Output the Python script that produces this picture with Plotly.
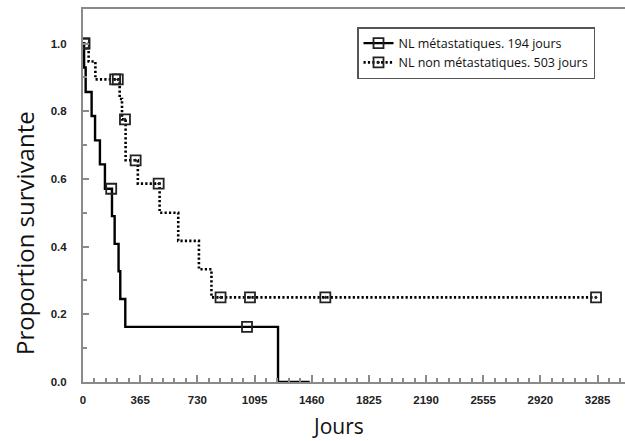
import plotly.graph_objects as go

# --- Data ---
met_times = [0, 7, 17, 55, 77, 108, 140, 185, 202, 227, 238, 270, 1245, 1447]
met_surv = [1.0, 0.929, 0.857, 0.786, 0.714, 0.643, 0.571, 0.490, 0.408, 0.327, 0.245, 0.163, 0.0, 0.0]
met_cens_t = [6, 180, 1047]
met_cens_s = [1.0, 0.571, 0.163]

nonmet_times = [0, 36, 79, 234, 249, 272, 350, 489, 608, 740, 820, 3275]
nonmet_surv = [1.0, 0.947, 0.894, 0.836, 0.776, 0.655, 0.586, 0.500, 0.417, 0.333, 0.250, 0.250]
nonmet_cens_t = [10, 205, 222, 268, 336, 483, 878, 1066, 1547, 3275]
nonmet_cens_s = [1.0, 0.894, 0.894, 0.776, 0.655, 0.586, 0.25, 0.25, 0.25, 0.25]

label_met = "NL métastatiques. 194 jours"
label_nonmet = "NL non métastatiques. 503 jours"
x_ticks = [0, 365, 730, 1095, 1460, 1825, 2190, 2555, 2920, 3285]
y_ticks = [0.0, 0.2, 0.4, 0.6, 0.8, 1.0]

DOT = "2.2px,2.2px"
fig = go.Figure()

# step lines
fig.add_trace(go.Scatter(x=met_times, y=met_surv, mode="lines", line_shape="hv",
                         line=dict(color="black", width=2.4), showlegend=False, hoverinfo="skip"))
fig.add_trace(go.Scatter(x=nonmet_times, y=nonmet_surv, mode="lines", line_shape="hv",
                         line=dict(color="black", width=2.6, dash=DOT), showlegend=False, hoverinfo="skip"))
# censor markers
fig.add_trace(go.Scatter(x=met_cens_t, y=met_cens_s, mode="markers",
                         marker=dict(symbol="square-open", size=10, color="#222",
                                     line=dict(width=1.8, color="#222")),
                         showlegend=False))
fig.add_trace(go.Scatter(x=nonmet_cens_t, y=nonmet_cens_s, mode="markers",
                         marker=dict(symbol="square-open-dot", size=10, color="#222",
                                     line=dict(width=1.8, color="#222")),
                         showlegend=False))
# legend entries
fig.add_trace(go.Scatter(x=[None], y=[None], mode="lines+markers", name=label_met,
                         line=dict(color="black", width=2.4),
                         marker=dict(symbol="square-open", size=10, color="#222", line=dict(width=1.8))))
fig.add_trace(go.Scatter(x=[None], y=[None], mode="lines+markers", name=label_nonmet,
                         line=dict(color="black", width=2.6, dash=DOT),
                         marker=dict(symbol="square-open-dot", size=10, color="#222", line=dict(width=1.8))))

axis_col = "#8a8a8a"
tickfont = dict(family="Liberation Sans, Arial", size=11.5, color="#222", weight="bold")

fig.update_xaxes(range=[0, 3460], tickvals=x_ticks, ticktext=[str(v) for v in x_ticks],
                 showgrid=False, zeroline=False, showline=True, linecolor=axis_col, linewidth=2,
                 mirror=True, ticks="inside", ticklen=7, tickwidth=1.5, tickcolor=axis_col,
                 minor=dict(dtick=73, tick0=0, ticks="inside", ticklen=4, tickwidth=1.5, tickcolor=axis_col),
                 tickfont=tickfont, ticklabelstandoff=6)
fig.update_yaxes(range=[0, 1.102], tickvals=y_ticks, ticktext=[f"{v:.1f}" for v in y_ticks],
                 showgrid=False, zeroline=False, showline=True, linecolor=axis_col, linewidth=2,
                 ticks="inside", ticklen=6, tickwidth=1.5, tickcolor=axis_col,
                 minor=dict(dtick=0.1, tick0=0, ticks="inside", ticklen=4, tickwidth=1.5, tickcolor=axis_col),
                 tickfont=tickfont, ticklabelstandoff=12)

fig.add_annotation(text="Jours", xref="paper", yref="paper", x=(338 - 83) / 542, y=(382 - 426) / 373,
                   xanchor="center", yanchor="middle", showarrow=False,
                   font=dict(family="Open Sans", size=21, color="#111"))
fig.add_annotation(text="Proportion survivante", xref="paper", yref="paper",
                   x=(25 - 83) / 542, y=(382 - 233) / 373, xanchor="center", yanchor="middle",
                   textangle=-90, showarrow=False,
                   font=dict(family="Open Sans", size=24, color="#111"))

fig.update_layout(
    width=625, height=441,
    margin=dict(l=83, r=0, t=9, b=59),
    plot_bgcolor="white", paper_bgcolor="white",
    legend=dict(x=(357 - 83) / 542, y=(382 - 27) / 373, xanchor="left", yanchor="top",
                bgcolor="white", bordercolor="#555", borderwidth=1.5,
                font=dict(family="Open Sans", size=12.5, color="#111"),
                itemwidth=30, tracegroupgap=0),
)

fig.write_html("out.html")
